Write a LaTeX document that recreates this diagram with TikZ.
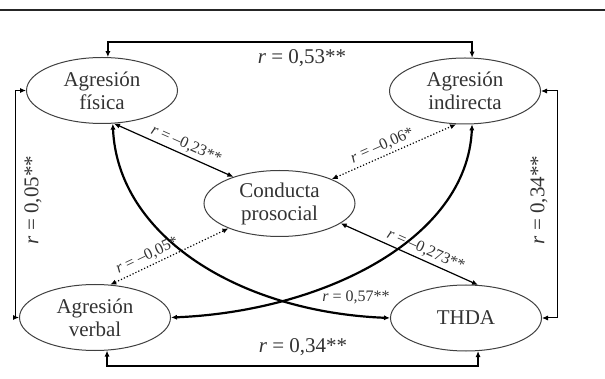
\documentclass[tikz,border=0pt]{standalone}
\usepackage{fontspec}
\setmainfont{Liberation Serif}
\usetikzlibrary{arrows.meta,shapes.geometric}

\begin{document}
\begin{tikzpicture}[
    x=0.5pt, y=-0.5pt,
    var/.style={draw=black!75, line width=0.5pt, ellipse, minimum width=75.5pt, minimum height=33pt, inner sep=0pt, align=center, text=black!80, font=\fontsize{10.5}{11.5}\selectfont},
    link/.style={{Latex[length=3pt,width=2.6pt]}-{Latex[length=3pt,width=2.6pt]}, line width=1.1pt},
    bracket/.style={link, line width=1pt},
    sidebracket/.style={link, line width=0.5pt},
    thinlink/.style={link, line width=0.6pt},
    dotlink/.style={thinlink, densely dotted},
    coef/.style={text=black!80, font=\fontsize{8}{9}\selectfont, sloped, above, inner sep=1.5pt},
    side/.style={text=black!80, font=\fontsize{10.5}{12}\selectfont}
]
    \useasboundingbox (0,0) rectangle (605,379);
    \draw[line width=1pt, black!85] (0,10) -- (605,10);

    \node[var] (fis) at (102,90.5) {Agresión\\física};
    \node[var] (ind) at (465,91) {Agresión\\indirecta};
    \node[var] (con) at (279.5,203.5) {Conducta\\prosocial};
    \node[var] (verb) at (95,317.5) {Agresión\\verbal};
    \node[var] (thda) at (466,318) {THDA};

    \coordinate (tp) at (0,42);
    \coordinate (bt) at (0,366);
    \coordinate (lf) at (15,0);
    \coordinate (rt) at (557,0);

    % correlaciones entre variables de agresion y THDA
    \draw[bracket] (fis.80) -- (fis.80 |- tp) -| (ind.78);
    \draw[bracket] (verb.290) -- (verb.290 |- bt) -| (thda.290);
    \draw[sidebracket] (fis.west) -- (fis.west -| lf) |- (verb.west);
    \draw[sidebracket] (ind.east) -- (ind.east -| rt) |- (thda.east);
    \node[side] (c53) at (302,58) {\textit{r} = 0,53**};
    \node[side] (c34) at (303,347) {\textit{r} = 0,34**};
    \node[side, rotate=90] (c05) at (33,200) {\textit{r} = 0,05**};
    \node[side, rotate=90] (c34b) at (539,200) {\textit{r} = 0,34**};

    \draw[link] (fis.-72) .. controls +(5,113) and +(-150,-6) .. (thda.west);
    \draw[link] (ind.-78) .. controls +(-5,116) and +(150,-6) .. (verb.east);
    \node[text=black!80, font=\fontsize{8}{9}\selectfont] (c57) at (356,297) {\textit{r} = 0,57**};

    % conducta prosocial
    \draw[thinlink] (fis.-70) -- node[coef, pos=0.57] {\textit{r} = –0,23**} (con.150);
    \draw[dotlink] (con.25) -- node[coef, pos=0.44] {\textit{r} = –0,06*} (ind.255);
    \draw[dotlink] (verb.65) -- node[coef, pos=0.35] {\textit{r} = –0,05*} (con.206);
    \draw[thinlink] (con.-18) -- node[coef, pos=0.59] {\textit{r} = –0,273**} (thda.70);
\end{tikzpicture}
\end{document}
